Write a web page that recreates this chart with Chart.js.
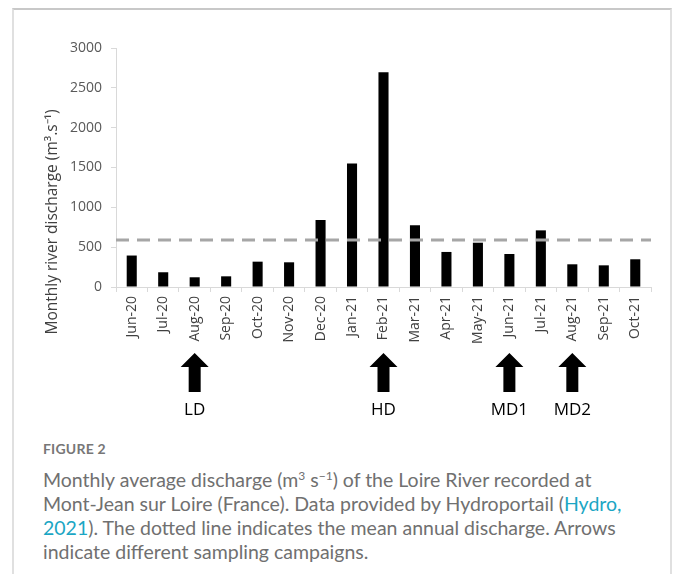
<!DOCTYPE html>
<html>
<head>
<meta charset="utf-8">
<script src="https://cdn.jsdelivr.net/npm/chart.js@4.4.0/dist/chart.umd.min.js"></script>
<style>
  body { margin: 0; background: #fff; width: 677px; height: 574px; overflow: hidden; position: relative; }
  #cadre { position: absolute; left: 12px; top: 8px; width: 660px; height: 620px;
           border: 2px solid #e0e0e0; border-top-color: #c8c8c8; box-sizing: border-box; }
  #zone { position: absolute; left: 0; top: 0; width: 677px; height: 430px; }
  #legende { position: absolute; left: 43px; top: 440px; font-family: Lato, "Open Sans", sans-serif;
             color: #707070; }
  #legende .fig { font-size: 14px; font-weight: bold; letter-spacing: 0.2px; margin-bottom: 11px; color: #777; }
  #legende .txt { font-size: 19.5px; line-height: 24px; }
  #legende sup { font-size: 12px; line-height: 0; }
  #legende a { color: #1ba6c4; text-decoration: none; }
</style>
</head>
<body>
<div id="cadre"></div>
<div id="zone"><canvas id="graficoVazao"></canvas></div>
<div id="legende">
  <div class="fig">FIGURE 2</div>
  <div class="txt">Monthly average discharge (m<sup>3</sup> s<sup>−1</sup>) of the Loire River recorded at<br>
  Mont-Jean sur Loire (France). Data provided by Hydroportail (<a>Hydro,<br>2021</a>). The dotted line indicates the mean annual discharge. Arrows<br>
  indicate different sampling campaigns.</div>
</div>
<script>
// ---------------- DADOS ----------------
const meses = ["Jun-20", "Jul-20", "Aug-20", "Sep-20", "Oct-20", "Nov-20", "Dec-20", "Jan-21",
  "Feb-21", "Mar-21", "Apr-21", "May-21", "Jun-21", "Jul-21", "Aug-21", "Sep-21", "Oct-21"];
const vazaoMensal = [395, 185, 122, 134, 318, 310, 841, 1550, 2695, 775, 440, 556, 414, 711, 285, 272, 348];
const vazaoMedia = 590;
const campanhas = ["Aug-20", "Feb-21", "Jun-21", "Aug-21"];
const nomesCampanhas = ["LD", "HD", "MD1", "MD2"];
const ticksY = [0, 500, 1000, 1500, 2000, 2500, 3000];

const tituloY = "Monthly river discharge (m³.s⁻¹)";
const corTexto = "#595959";
const corEixo = "#d9d9d9";

// ---------------- PLUGINS ----------------
// linha tracejada da vazão média anual
const linhaMedia = {
  id: "linhaMedia",
  afterDatasetsDraw(chart) {
    const { ctx, chartArea, scales } = chart;
    const y = scales.y.getPixelForValue(vazaoMedia);
    ctx.save();
    ctx.strokeStyle = "#a6a6a6";
    ctx.lineWidth = 3;
    ctx.setLineDash([13, 8]);
    ctx.beginPath();
    ctx.moveTo(chartArea.left, y);
    ctx.lineTo(chartArea.right, y);
    ctx.stroke();
    ctx.restore();
  }
};

// setas das campanhas + titulo do eixo y
const setas = {
  id: "setas",
  afterDraw(chart) {
    const { ctx, scales } = chart;
    ctx.save();
    campanhas.forEach((mes, i) => {
      const x = scales.x.getPixelForValue(meses.indexOf(mes));
      ctx.fillStyle = "#000";
      ctx.beginPath();
      ctx.moveTo(x, 353);
      ctx.lineTo(x + 14, 367);
      ctx.lineTo(x + 6, 367);
      ctx.lineTo(x + 6, 392);
      ctx.lineTo(x - 6, 392);
      ctx.lineTo(x - 6, 367);
      ctx.lineTo(x - 14, 367);
      ctx.closePath();
      ctx.fill();
      ctx.font = '17px "Open Sans"';
      ctx.textAlign = "center";
      ctx.textBaseline = "middle";
      ctx.fillText(nomesCampanhas[i], x, 410);
    });

    ctx.translate(53, 222);
    ctx.rotate(-Math.PI / 2);
    ctx.font = '15.5px "Open Sans"';
    ctx.fillStyle = "#404040";
    ctx.textAlign = "center";
    ctx.textBaseline = "middle";
    ctx.fillText(tituloY, 0, 0);
    ctx.restore();
  }
};

// ---------------- GRAFICO ----------------
const ctx = document.getElementById("graficoVazao").getContext("2d");
const graficoVazao = new Chart(ctx, {
  type: "bar",
  data: {
    labels: meses,
    datasets: [{
      data: vazaoMensal,
      backgroundColor: "#000",
      categoryPercentage: 1,
      barPercentage: 0.32
    }]
  },
  options: {
    responsive: true,
    maintainAspectRatio: false,
    animation: false,
    layout: { padding: { top: 48, right: 26, bottom: 83, left: 0 } },
    scales: {
      x: {
        grid: { drawOnChartArea: false, drawTicks: true, tickLength: 5, color: corEixo },
        border: { color: corEixo, width: 1 },
        ticks: {
          minRotation: 90, maxRotation: 90, padding: 4,
          color: "#404040", font: { family: "Open Sans", size: 14 }
        },
        afterFit(scale) { scale.height = 60; }
      },
      y: {
        min: 0, max: 3000,
        afterBuildTicks(scale) { scale.ticks = ticksY.map(v => ({ value: v })); },
        grid: { drawOnChartArea: false, drawTicks: true, tickLength: 5, color: corEixo },
        border: { color: corEixo, width: 1 },
        ticks: {
          padding: 9, color: corTexto, font: { family: "Open Sans", size: 14 },
          callback: v => String(v)
        },
        afterFit(scale) { scale.width = 116; }
      }
    },
    plugins: { legend: { display: false }, tooltip: { enabled: false } }
  },
  plugins: [linhaMedia, setas]
});
</script>
</body>
</html>
